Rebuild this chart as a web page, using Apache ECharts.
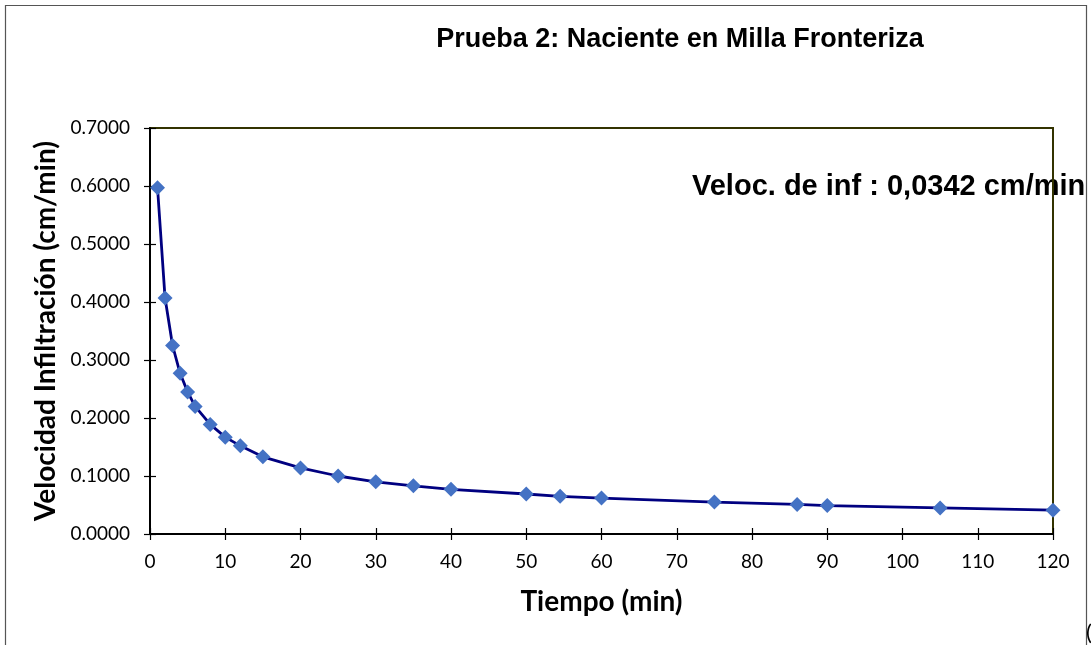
<!DOCTYPE html>
<html>
<head>
<meta charset="utf-8">
<script src="https://cdn.jsdelivr.net/npm/echarts@6/dist/echarts.min.js"></script>
<style>
html,body{margin:0;padding:0;background:#fff;}
#c{width:1091px;height:645px;}
</style>
</head>
<body>
<div id="c"></div>
<script>
var tiempo = [1, 2, 3, 4, 5, 6, 8, 10, 12, 15, 20, 25, 30, 35, 40, 50, 54.5, 60, 75, 86, 90, 105, 120];
var velocidad = [0.597, 0.407, 0.325, 0.277, 0.245, 0.220, 0.189, 0.167, 0.152, 0.133, 0.114, 0.100, 0.090, 0.083, 0.077, 0.069, 0.065, 0.062, 0.055, 0.051, 0.049, 0.045, 0.041];
var titulo = 'Prueba 2: Naciente en Milla Fronteriza';
var nota = 'Veloc. de inf : 0,0342 cm/min';
var ejeX = 'Tiempo (min)';
var ejeY = 'Velocidad Infiltración (cm/min)';

var pts = tiempo.map(function(t, i){ return [t, velocidad[i]]; });
var chart = echarts.init(document.getElementById('c'));
var lblFont = 'Lato, "Open Sans", sans-serif';
function xa(show, inside){
  return {
    type:'value', min:0, max:120, interval:10, position:'bottom',
    axisLine:{show:show, lineStyle:{color:'#000', width:2}},
    axisTick:{show:true, inside:inside, length:6, lineStyle:{color:'#000', width:1.2}},
    axisLabel:{show:show, color:'#000', fontSize:19, fontFamily:lblFont, margin:18},
    splitLine:{show:false},
    name: show ? ejeX : '', nameLocation:'middle', nameGap:54,
    nameTextStyle:{color:'#000', fontSize:28, fontWeight:'bold', fontFamily:lblFont}
  };
}
function ya(show, inside){
  return {
    type:'value', min:0, max:0.7, interval:0.1, position:'left',
    axisLine:{show:show, lineStyle:{color:'#000', width:2}},
    axisTick:{show:true, inside:inside, length:6, lineStyle:{color:'#000', width:1.2}},
    axisLabel:{show:show, color:'#000', fontSize:19, fontFamily:lblFont, margin:20,
      formatter:function(v){ return v.toFixed(4); }},
    splitLine:{show:false},
    name: show ? ejeY : '', nameLocation:'middle', nameGap:90, nameRotate:90,
    nameTextStyle:{color:'#000', fontSize:28, fontWeight:'bold', fontFamily:lblFont}
  };
}
chart.setOption({
  animation:false,
  backgroundColor:'#fff',
  title:{text:titulo, left:675, top:21, textAlign:'center',
    textStyle:{fontSize:27, fontWeight:'bold', color:'#000', fontFamily:'"Liberation Sans", Arial, sans-serif'}},
  grid:{left:150, top:128, right:38, bottom:111, show:true, borderColor:'#333300', borderWidth:2, backgroundColor:'transparent'},
  xAxis:[xa(true,false), xa(false,true)],
  yAxis:[ya(true,false), ya(false,true)],
  graphic:[
    {type:'rect', shape:{x:5.5, y:5.5, width:1081, height:700}, style:{fill:'none', stroke:'#555', lineWidth:1.2}, silent:true, z:-1},
    {type:'text', left:692, top:172, style:{text:nota, fontSize:29, fontWeight:'bold', fill:'#000', fontFamily:'"Liberation Sans", Arial, sans-serif'}, z:-1},
    {type:'text', left:1086, top:622, style:{text:'(', fontSize:22, fill:'#000', fontFamily:lblFont}}
  ],
  series:[{
    type:'line', data:pts, smooth:false, symbol:'diamond', symbolSize:15,
    lineStyle:{color:'#000080', width:2.8},
    itemStyle:{color:'#4472C4'}, clip:false
  }]
});
</script>
</body>
</html>
